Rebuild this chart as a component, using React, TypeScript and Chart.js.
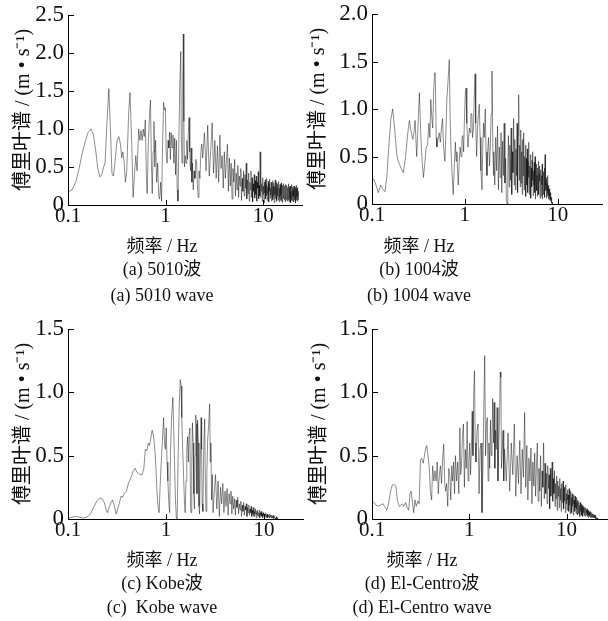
import React, { useEffect, useRef } from 'react';
import { Chart, registerables } from 'chart.js';

Chart.register(...registerables);

const SERIF = "'Liberation Serif', 'Times New Roman', 'Noto Sans CJK SC', serif";

const Y_TITLE = '傅里叶谱 / (m • s⁻¹)';
const X_TITLE = '频率 / Hz';
const X_TICKS = [0.1, 1, 10];
const X_TICK_LABELS = ['0.1', '1', '10'];
const Y_TICKS_A = [0, 0.5, 1.0, 1.5, 2.0, 2.5];
const Y_TICKS_B = [0, 0.5, 1.0, 1.5, 2.0];
const Y_TICKS_CD = [0, 0.5, 1.0, 1.5];

const CAPTIONS_A = ['(a) 5010波', '(a) 5010 wave'];
const CAPTIONS_B = ['(b) 1004波', '(b) 1004 wave'];
const CAPTIONS_C = ['(c) Kobe波', '(c)  Kobe wave'];
const CAPTIONS_D = ['(d) El-Centro波', '(d) El-Centro wave'];

// (a) 5010 wave: sparse low-frequency part [Hz, amplitude]
const A_LOW: [number, number][] = [
  [0.100,0.17],[0.110,0.20],[0.120,0.30],[0.130,0.48],[0.140,0.68],[0.150,0.83],[0.160,0.95],[0.172,1.00],
  [0.182,0.93],[0.192,0.72],[0.202,0.48],[0.212,0.37],[0.222,0.40],[0.232,0.50],[0.240,0.56],[0.250,1.05],
  [0.262,1.53],[0.272,1.00],[0.282,0.42],[0.292,0.38],[0.305,0.60],[0.318,0.85],[0.332,0.90],[0.345,0.80],
  [0.355,0.62],[0.365,0.70],[0.375,0.58],[0.388,0.30],[0.400,0.45],[0.418,1.20],[0.432,1.48],[0.450,0.80],
  [0.465,0.10],[0.480,0.40],[0.495,0.65],[0.510,0.45],[0.530,1.00],[0.545,0.85],[0.560,0.98],[0.575,0.85],
  [0.590,1.00],[0.605,0.90],[0.620,1.12],[0.635,0.40],[0.648,0.15],[0.665,0.80],[0.685,1.20],[0.700,1.38],
  [0.715,0.60],[0.730,0.15],[0.745,0.70],[0.760,1.10],[0.775,0.50],[0.790,0.85],[0.810,0.30],[0.830,0.55],
  [0.850,0.12],[0.870,0.08],[0.890,0.30],[0.910,0.05],[0.935,0.90],[0.955,1.35],[0.975,1.25],[0.995,1.28],
  [1.015,0.70],[1.035,0.55],[1.060,0.85],[1.080,0.75],[1.100,0.96],[1.120,0.60],[1.140,0.95],[1.165,0.75],
  [1.190,0.92],[1.215,0.55],[1.240,0.88],[1.265,0.40],[1.290,0.85],[1.315,0.20],[1.340,0.05],[1.370,0.90],
  [1.400,1.60],[1.430,2.02],[1.450,0.90],[1.475,0.55],[1.500,1.60],[1.520,2.25],[1.540,1.10],[1.560,0.50],
  [1.590,0.65],[1.620,0.55],[1.650,0.85],[1.680,0.60],[1.710,0.95],[1.740,1.15],[1.770,0.70],[1.800,0.45],
  [1.830,0.75],[1.860,0.30],[1.890,0.55],[1.920,0.20],[1.960,0.45],[2.000,0.35],[2.040,0.60],[2.080,0.55],
  [2.120,0.25],[2.160,0.10],[2.200,0.45],[2.250,0.35],[2.300,0.70],[2.350,0.80],
];
// (a) dense part, one value every A_STEP Hz from A_START
const A_START = 2.4;
const A_STEP = 0.1;
const A_DENSE = [
  0.62,0.95,0.45,1.05,0.38,0.72,1.08,0.42,0.85,0.35,
  0.78,0.30,0.92,0.48,0.65,0.22,0.70,0.35,0.58,0.80,
  0.18,0.62,0.25,0.55,0.08,0.48,0.30,0.60,0.12,0.42,
  0.20,0.52,0.10,0.38,0.25,0.48,0.06,0.35,0.18,0.45,
  0.12,0.40,0.22,0.55,0.08,0.33,0.15,0.42,0.05,0.30,
  0.20,0.45,0.10,0.36,0.04,0.28,0.18,0.40,0.09,0.32,
  0.14,0.38,0.05,0.30,0.22,0.44,0.08,0.26,0.12,0.70,
  0.10,0.34,0.18,0.28,0.05,0.36,0.14,0.25,0.03,0.30,
  0.16,0.33,0.08,0.27,0.12,0.35,0.06,0.24,0.15,0.31,
  0.04,0.28,0.18,0.34,0.09,0.22,0.13,0.30,0.05,0.26,
  0.17,0.32,0.07,0.25,0.11,0.29,0.03,0.24,0.14,0.33,
  0.08,0.27,0.16,0.30,0.05,0.23,0.12,0.28,0.07,0.25,
  0.15,0.31,0.04,0.22,0.10,0.27,0.06,0.24,0.13,0.29,
  0.05,0.21,0.11,0.26,0.03,0.23,0.14,0.28,0.08,0.20,
  0.12,0.25,0.06,0.22,0.15,0.27,0.04,0.19,0.10,0.24,
  0.07,0.26,0.13,0.21,0.05,0.23,0.11,0.28,0.06,0.20,
  0.14,0.24,0.04,0.19,0.09,0.25,0.12,0.22,0.03,0.18,
  0.10,0.23,0.06,0.27,0.13,0.20,0.05,0.24,0.11,0.19,
  0.04,0.22,0.12,0.25,0.07,0.18,0.14,0.23,0.05,0.20,
  0.09,0.24,0.03,0.21,0.13,0.26,0.06,0.19,0.11,0.22,
  0.05,0.20,0.10,0.23,0.07,0.18,0.12,
];

// (b) 1004 wave
const B_LOW: [number, number][] = [
  [0.100,0.25],[0.105,0.26],[0.112,0.18],[0.117,0.12],[0.124,0.20],[0.130,0.16],[0.138,0.13],[0.145,0.30],
  [0.152,0.62],[0.160,0.90],[0.167,1.00],[0.175,0.80],[0.185,0.52],[0.192,0.45],[0.205,0.38],[0.218,0.33],
  [0.230,0.50],[0.243,0.75],[0.253,0.88],[0.262,0.78],[0.275,0.68],[0.283,0.75],[0.291,0.88],[0.303,0.50],
  [0.314,0.85],[0.324,1.17],[0.336,0.70],[0.347,0.45],[0.358,0.28],[0.370,0.42],[0.383,0.60],[0.396,0.62],
  [0.410,0.85],[0.420,0.70],[0.430,1.10],[0.440,0.92],[0.450,0.80],[0.462,1.20],[0.472,1.38],[0.480,1.38],
  [0.492,0.70],[0.500,0.60],[0.515,0.68],[0.530,0.75],[0.545,0.65],[0.560,0.80],[0.575,0.90],[0.590,0.60],
  [0.610,0.45],[0.625,0.75],[0.640,1.10],[0.660,1.30],[0.680,1.52],[0.695,0.90],[0.710,0.55],[0.730,0.30],
  [0.750,0.10],[0.770,0.40],[0.790,0.65],[0.805,0.45],[0.820,0.55],[0.835,0.35],[0.850,0.20],[0.870,0.45],
  [0.890,0.60],[0.910,0.50],[0.930,0.70],[0.950,0.72],[0.970,0.55],[0.990,0.90],[1.010,1.15],[1.030,1.22],
  [1.050,0.85],[1.080,0.60],[1.100,0.70],[1.120,0.80],[1.140,0.75],[1.160,0.95],[1.190,0.95],[1.210,0.70],
  [1.240,0.80],[1.260,1.10],[1.290,1.37],[1.310,0.85],[1.340,0.50],[1.370,0.80],[1.400,0.95],[1.430,1.05],
  [1.460,0.70],[1.490,0.35],[1.530,0.15],[1.560,0.60],[1.590,0.85],[1.620,0.70],[1.660,1.00],[1.690,0.55],
  [1.730,0.30],[1.760,0.55],[1.800,0.70],[1.840,0.40],[1.880,0.60],[1.920,0.95],[1.960,1.40],[2.000,0.60],
  [2.040,0.30],
];
const B_START = 2.05;
const B_STEP = 0.05;
const B_DENSE = [
  0.55,0.20,0.70,0.35,0.82,0.15,0.60,0.28,0.75,0.12,
  0.66,0.30,0.85,0.22,0.48,0.05,0.00,0.40,0.72,0.18,
  0.62,0.25,0.80,0.10,0.55,0.33,0.90,0.20,0.68,0.15,
  0.58,0.30,0.85,0.12,0.72,1.15,0.25,0.62,0.18,0.78,
  0.22,0.55,0.10,0.68,0.30,0.75,0.15,0.50,0.26,0.62,
  0.08,0.48,0.20,0.58,0.12,0.45,0.28,0.65,0.10,0.40,
  0.22,0.52,0.06,0.38,0.18,0.46,0.25,0.55,0.09,0.35,
  0.20,0.44,0.12,0.50,0.05,0.36,0.22,0.42,0.14,0.30,
  0.08,0.38,0.18,0.45,0.10,0.32,0.24,0.40,0.06,0.28,
  0.15,0.36,0.08,0.30,0.20,0.42,0.05,0.26,0.16,0.34,
  0.10,0.28,0.18,0.38,0.07,0.52,0.14,0.30,0.20,0.25,
  0.06,0.28,0.15,0.22,0.08,0.30,0.12,0.18,0.05,0.20,
  0.10,0.16,0.04,0.14,0.08,0.12,0.03,0.10,0.05,0.07,
  0.02,0.05,0.01,0.02,0.00,
];

// (c) Kobe wave
const C_LOW: [number, number][] = [
  [0.100,0.005],[0.110,0.015],[0.120,0.020],[0.130,0.015],[0.140,0.008],[0.150,0.010],[0.160,0.020],
  [0.172,0.050],[0.185,0.100],[0.198,0.145],[0.210,0.165],[0.222,0.160],[0.235,0.130],[0.245,0.070],
  [0.252,0.050],[0.262,0.090],[0.275,0.130],[0.285,0.150],[0.298,0.100],[0.310,0.040],[0.322,0.080],
  [0.335,0.130],[0.348,0.180],[0.360,0.170],[0.375,0.200],[0.395,0.220],[0.413,0.280],[0.440,0.330],
  [0.465,0.380],[0.484,0.400],[0.505,0.370],[0.525,0.360],[0.545,0.350],[0.570,0.350],[0.595,0.400],
  [0.615,0.550],[0.638,0.540],[0.660,0.600],[0.680,0.580],[0.700,0.640],[0.722,0.700],[0.745,0.660],
  [0.770,0.550],[0.790,0.400],[0.810,0.200],[0.830,0.100],[0.850,0.050],[0.870,0.250],[0.895,0.450],
  [0.920,0.620],[0.945,0.800],[0.965,0.600],[0.985,0.550],[1.005,0.720],[1.025,0.450],[1.045,0.300],
  [1.070,0.120],[1.090,0.050],[1.110,0.500],[1.140,0.800],[1.175,0.960],[1.200,0.700],[1.225,0.400],
  [1.250,0.150],[1.275,0.010],[1.300,0.000],[1.330,0.500],[1.365,0.900],[1.400,1.100],[1.425,1.050],
  [1.450,0.800],[1.480,0.550],[1.510,0.350],[1.540,0.150],[1.570,0.050],[1.600,0.300],[1.630,0.550],
  [1.660,0.650],[1.690,0.450],[1.720,0.680],[1.750,0.720],[1.780,0.100],[1.800,0.050],[1.830,0.400],
  [1.860,0.760],[1.890,0.600],[1.920,0.200],[1.950,0.080],[1.980,0.500],[2.010,0.820],[2.040,0.750],
  [2.070,0.200],[2.100,0.780],[2.140,0.600],[2.170,0.100],[2.200,0.040],[2.240,0.450],[2.280,0.800],
  [2.310,0.550],[2.340,0.120],[2.380,0.060],[2.420,0.500],[2.480,0.790],[2.520,0.300],[2.560,0.060],
  [2.610,0.350],[2.660,0.620],[2.730,0.750],[2.790,0.910],[2.830,0.450],[2.870,0.600],[2.920,0.150],
  [2.970,0.350],[3.020,0.050],
];
const C_START = 3.1;
const C_STEP = 0.1;
const C_DENSE = [
  0.20,0.35,0.08,0.30,0.02,0.25,0.12,0.28,0.05,0.22,
  0.10,0.24,0.03,0.20,0.12,0.22,0.04,0.18,0.08,0.16,
  0.03,0.15,0.09,0.17,0.04,0.12,0.07,0.14,0.02,0.11,
  0.06,0.13,0.03,0.10,0.07,0.12,0.02,0.09,0.05,0.11,
  0.03,0.08,0.05,0.10,0.02,0.07,0.04,0.09,0.02,0.06,
  0.04,0.08,0.01,0.06,0.03,0.07,0.02,0.05,0.04,0.07,
  0.01,0.05,0.03,0.06,0.02,0.04,0.01,0.05,0.03,0.04,
  0.01,0.04,0.02,0.05,0.01,0.03,0.02,0.04,0.01,0.03,
  0.02,0.03,0.01,0.04,0.01,0.02,0.03,0.01,0.02,0.03,
  0.01,0.02,0.01,0.03,0.00,0.02,0.01,0.02,0.01,0.01,
  0.00,0.01,0.01,0.02,0.00,0.01,0.00,0.01,0.00,0.00,
];

// (d) El-Centro wave
const D_LOW: [number, number][] = [
  [0.100,0.14],[0.105,0.13],[0.110,0.11],[0.115,0.10],[0.122,0.11],[0.130,0.12],[0.135,0.10],[0.142,0.07],
  [0.148,0.12],[0.155,0.22],[0.162,0.27],[0.170,0.27],[0.176,0.26],[0.182,0.15],[0.190,0.10],[0.198,0.11],
  [0.205,0.12],[0.213,0.10],[0.222,0.13],[0.230,0.09],[0.238,0.07],[0.246,0.20],[0.252,0.22],[0.260,0.14],
  [0.268,0.05],[0.276,0.15],[0.285,0.10],[0.296,0.14],[0.305,0.12],[0.315,0.47],[0.325,0.48],[0.336,0.44],
  [0.346,0.50],[0.356,0.56],[0.366,0.58],[0.376,0.50],[0.388,0.40],[0.398,0.22],[0.410,0.15],[0.420,0.42],
  [0.432,0.30],[0.444,0.38],[0.456,0.30],[0.468,0.45],[0.480,0.20],[0.492,0.35],[0.505,0.42],[0.518,0.28],
  [0.530,0.45],[0.545,0.59],[0.558,0.30],[0.570,0.22],[0.585,0.28],[0.600,0.10],[0.615,0.40],[0.630,0.35],
  [0.645,0.15],[0.660,0.42],[0.675,0.30],[0.690,0.45],[0.705,0.20],[0.720,0.50],[0.740,0.30],[0.760,0.45],
  [0.780,0.20],[0.800,0.72],[0.815,0.35],[0.830,0.40],[0.850,0.65],[0.870,0.75],[0.890,0.25],[0.910,0.55],
  [0.930,0.40],[0.950,0.77],[0.970,0.30],[0.990,0.45],[1.010,0.60],[1.030,0.35],[1.050,0.55],[1.070,0.85],
  [1.090,0.50],[1.110,1.00],[1.130,1.17],[1.150,0.60],[1.170,0.45],[1.200,0.70],[1.230,0.75],[1.260,0.20],
  [1.290,0.55],[1.320,0.60],[1.350,0.05],[1.380,0.40],[1.410,0.90],[1.440,1.29],[1.470,0.50],[1.500,0.75],
  [1.530,0.80],[1.560,0.30],[1.590,0.60],[1.620,0.40],[1.650,0.78],[1.680,0.50],[1.710,0.65],[1.740,0.95],
  [1.770,0.60],[1.800,0.92],[1.830,0.40],[1.860,0.70],[1.890,0.55],[1.930,0.88],[1.970,0.30],[2.010,0.60],
  [2.050,0.85],[2.080,1.16],[2.110,1.12],[2.140,0.40],[2.180,0.55],[2.220,0.70],[2.260,0.30],
];
const D_START = 2.3;
const D_STEP = 0.1;
const D_DENSE = [
  0.55,0.30,0.68,0.22,0.60,0.35,0.75,0.18,0.50,0.28,
  0.62,0.20,0.55,0.33,0.84,0.25,0.58,0.15,0.48,0.30,
  0.56,0.12,0.45,0.26,0.52,0.18,0.42,0.60,0.14,0.40,
  0.22,0.50,0.10,0.38,0.25,0.60,0.16,0.44,0.20,0.36,
  0.12,0.42,0.24,0.35,0.08,0.40,0.18,0.30,0.45,0.14,
  0.32,0.20,0.38,0.10,0.28,0.16,0.34,0.07,0.30,0.18,
  0.26,0.09,0.32,0.15,0.24,0.06,0.28,0.13,0.22,0.30,
  0.08,0.25,0.14,0.21,0.05,0.27,0.12,0.20,0.07,0.23,
  0.15,0.19,0.06,0.24,0.11,0.18,0.04,0.22,0.13,0.17,
  0.05,0.20,0.10,0.16,0.03,0.19,0.12,0.15,0.06,0.18,
  0.09,0.14,0.04,0.17,0.08,0.13,0.03,0.15,0.10,0.12,
  0.04,0.14,0.07,0.11,0.02,0.13,0.06,0.10,0.08,0.12,
  0.03,0.10,0.06,0.11,0.02,0.09,0.05,0.10,0.03,0.08,
  0.06,0.09,0.02,0.08,0.04,0.09,0.03,0.07,0.05,0.08,
  0.02,0.07,0.04,0.06,0.01,0.07,0.03,0.05,0.02,0.06,
  0.03,0.05,0.01,0.06,0.02,0.04,0.03,0.05,0.01,0.04,
  0.02,0.04,0.01,0.03,0.02,0.04,0.01,0.03,0.02,0.03,
  0.01,0.02,0.01,0.03,0.00,0.02,0.01,0.02,0.01,0.01,
  0.00,0.01,0.01,0.00,0.01,0.00,0.00,0.00,
];

function buildPoints(low: [number, number][], start: number, step: number, dense: number[]) {
  const pts = low.map(([f, a]) => ({ x: f, y: a }));
  dense.forEach((a, i) => pts.push({ x: +(start + i * step).toFixed(4), y: a }));
  return pts;
}

const inwardTicks = {
  id: 'inwardTicks',
  afterDatasetsDraw(chart: any) {
    const { ctx, chartArea, scales } = chart;
    ctx.save();
    ctx.strokeStyle = '#000';
    ctx.lineWidth = 1;
    ctx.beginPath();
    scales.x.ticks.forEach((t: any) => {
      const px = Math.round(scales.x.getPixelForValue(t.value)) + 0.5;
      ctx.moveTo(px, chartArea.bottom);
      ctx.lineTo(px, chartArea.bottom - 5);
    });
    scales.y.ticks.forEach((t: any) => {
      const py = Math.round(scales.y.getPixelForValue(t.value)) + 0.5;
      ctx.moveTo(chartArea.left, py);
      ctx.lineTo(chartArea.left + 6, py);
    });
    ctx.stroke();
    ctx.restore();
  },
};

type PanelProps = {
  left: number; top: number; width: number; height: number;
  padTop: number; padRight: number; axisWidth: number; xAxisHeight: number;
  xMax: number; yMax: number; yTicks: number[]; titlePad: number;
  points: { x: number; y: number }[];
};

function Panel(p: PanelProps) {
  const ref = useRef<HTMLCanvasElement>(null);
  useEffect(() => {
    const chart = new Chart(ref.current as HTMLCanvasElement, {
      type: 'line',
      data: {
        datasets: [{
          data: p.points,
          borderColor: 'rgba(0,0,0,0.5)',
          borderWidth: 0.9,
          borderJoinStyle: 'bevel',
          pointRadius: 0,
          tension: 0,
          fill: false,
        }],
      },
      options: {
        animation: false,
        responsive: false,
        devicePixelRatio: 1,
        layout: { padding: { top: p.padTop, right: p.padRight, left: 0, bottom: 0 } },
        plugins: { legend: { display: false }, tooltip: { enabled: false }, title: { display: false } },
        scales: {
          x: {
            type: 'logarithmic',
            min: 0.1,
            max: p.xMax,
            afterBuildTicks: (s: any) => { s.ticks = X_TICKS.map((v) => ({ value: v })); },
            afterFit: (s: any) => { s.height = p.xAxisHeight; },
            grid: { display: false, drawTicks: false },
            border: { display: true, color: '#000', width: 1 },
            ticks: {
              autoSkip: false,
              maxRotation: 0,
              padding: 1,
              color: '#111',
              font: { family: SERIF, size: 21, lineHeight: 1 },
              callback: (_v: any, i: number) => X_TICK_LABELS[i],
            },
          },
          y: {
            type: 'linear',
            min: 0,
            max: p.yMax,
            afterBuildTicks: (s: any) => { s.ticks = p.yTicks.map((v) => ({ value: v })); },
            afterFit: (s: any) => { s.width = p.axisWidth; },
            grid: { display: false, drawTicks: false },
            border: { display: true, color: '#000', width: 1 },
            ticks: {
              padding: 4,
              color: '#111',
              font: { family: SERIF, size: 23, lineHeight: 0.8 },
              callback: (v: any) => (Number(v) === 0 ? '0' : Number(v).toFixed(1)),
            },
            title: {
              display: true,
              text: Y_TITLE,
              color: '#111',
              font: { family: SERIF, size: 20, lineHeight: 1 },
              padding: { top: p.titlePad, bottom: 0 },
            },
          },
        },
      },
      plugins: [inwardTicks],
    } as any);
    return () => chart.destroy();
  }, []);
  return (
    <canvas
      ref={ref}
      width={p.width}
      height={p.height}
      style={{ position: 'absolute', left: p.left, top: p.top, width: p.width, height: p.height }}
    />
  );
}

function Caption({ cx, cy, text }: { cx: number; cy: number; text: string }) {
  return (
    <div
      style={{
        position: 'absolute', left: cx - 150, width: 300, top: cy - 13,
        textAlign: 'center', fontFamily: SERIF, fontSize: 18, lineHeight: '24px',
        whiteSpace: 'pre', color: '#111',
      }}
    >
      {text}
    </div>
  );
}

export default function App() {
  return (
    <div style={{ position: 'absolute', left: 0, top: 0, width: 608, height: 621, overflow: 'hidden', background: '#fff' }}>
      <Panel left={0} top={0} width={304} height={240} padTop={15} padRight={2} axisWidth={68} xAxisHeight={35}
        xMax={25} yMax={2.5} yTicks={Y_TICKS_A} titlePad={14} points={buildPoints(A_LOW, A_START, A_STEP, A_DENSE)} />
      <Panel left={304} top={0} width={304} height={240} padTop={14} padRight={6} axisWidth={68} xAxisHeight={36}
        xMax={30} yMax={2.0} yTicks={Y_TICKS_B} titlePad={5} points={buildPoints(B_LOW, B_START, B_STEP, B_DENSE)} />
      <Panel left={0} top={310} width={304} height={240} padTop={19} padRight={1} axisWidth={68} xAxisHeight={31}
        xMax={25} yMax={1.5} yTicks={Y_TICKS_CD} titlePad={14} points={buildPoints(C_LOW, C_START, C_STEP, C_DENSE)} />
      <Panel left={304} top={310} width={304} height={240} padTop={19} padRight={1} axisWidth={68} xAxisHeight={31}
        xMax={26} yMax={1.5} yTicks={Y_TICKS_CD} titlePad={6} points={buildPoints(D_LOW, D_START, D_STEP, D_DENSE)} />
      <Caption cx={162} cy={247} text={X_TITLE} />
      <Caption cx={162} cy={270} text={CAPTIONS_A[0]} />
      <Caption cx={162} cy={296} text={CAPTIONS_A[1]} />
      <Caption cx={419} cy={247} text={X_TITLE} />
      <Caption cx={419} cy={270} text={CAPTIONS_B[0]} />
      <Caption cx={419} cy={296} text={CAPTIONS_B[1]} />
      <Caption cx={162} cy={561} text={X_TITLE} />
      <Caption cx={162} cy={584} text={CAPTIONS_C[0]} />
      <Caption cx={162} cy={608} text={CAPTIONS_C[1]} />
      <Caption cx={422} cy={561} text={X_TITLE} />
      <Caption cx={422} cy={584} text={CAPTIONS_D[0]} />
      <Caption cx={422} cy={608} text={CAPTIONS_D[1]} />
    </div>
  );
}
